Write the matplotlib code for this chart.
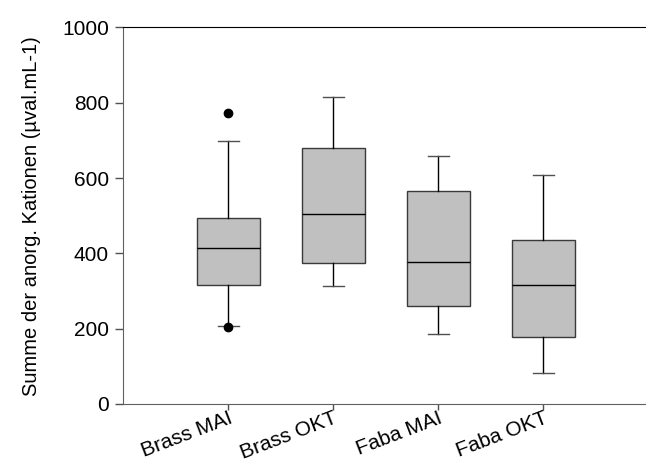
import matplotlib
matplotlib.use("Agg")
import matplotlib.pyplot as plt

plt.rcParams['font.family'] = ['Liberation Sans', 'DejaVu Sans']

groups = ["Brass MAI", "Brass OKT", "Faba MAI", "Faba OKT"]
whisker_low = [207, 313, 187, 83]
q1 = [315, 374, 261, 179]
median = [415, 504, 376, 316]
q3 = [494, 679, 566, 436]
whisker_high = [698, 816, 659, 607]
outliers = [[774, 204], [], [], []]

stats = []
for i, name in enumerate(groups):
    stats.append(dict(label=name, whislo=whisker_low[i], q1=q1[i], med=median[i],
                      q3=q3[i], whishi=whisker_high[i], fliers=outliers[i]))

fig = plt.figure(figsize=(6.46, 4.69), dpi=100)
ax = fig.add_axes([0.1904, 0.1386, 0.813, 0.8028])

ax.bxp(stats, positions=[1, 2, 3, 4], widths=0.6, capwidths=0.2,
       patch_artist=True, showfliers=True,
       boxprops=dict(facecolor="#c0c0c0", edgecolor="#3a3a3a", linewidth=1.0),
       medianprops=dict(color="black", linewidth=1.0),
       whiskerprops=dict(color="black", linewidth=1.0),
       capprops=dict(color="#505050", linewidth=1.0),
       flierprops=dict(marker="o", markerfacecolor="black", markeredgecolor="black",
                       markersize=6))

ax.set_xlim(0, 5)
ax.set_ylim(0, 1000)
ax.set_yticks([0, 200, 400, 600, 800, 1000])
ax.set_xticks([1, 2, 3, 4])
ax.set_xticklabels(groups, rotation=21, ha="right", rotation_mode="anchor")
ax.tick_params(axis="both", labelsize=15, width=1, color="#505050", direction="out")
ax.tick_params(axis="x", length=4, pad=-1)
ax.tick_params(axis="y", length=6, pad=4)

ax.spines["right"].set_visible(False)
ax.spines["top"].set_color("black")
ax.spines["left"].set_color("#606060")
ax.spines["bottom"].set_color("#606060")

ax.set_ylabel("Summe der anorg. Kationen (µval.mL-1)", fontsize=14.5, labelpad=15)

fig.savefig("out.png", dpi=100)
